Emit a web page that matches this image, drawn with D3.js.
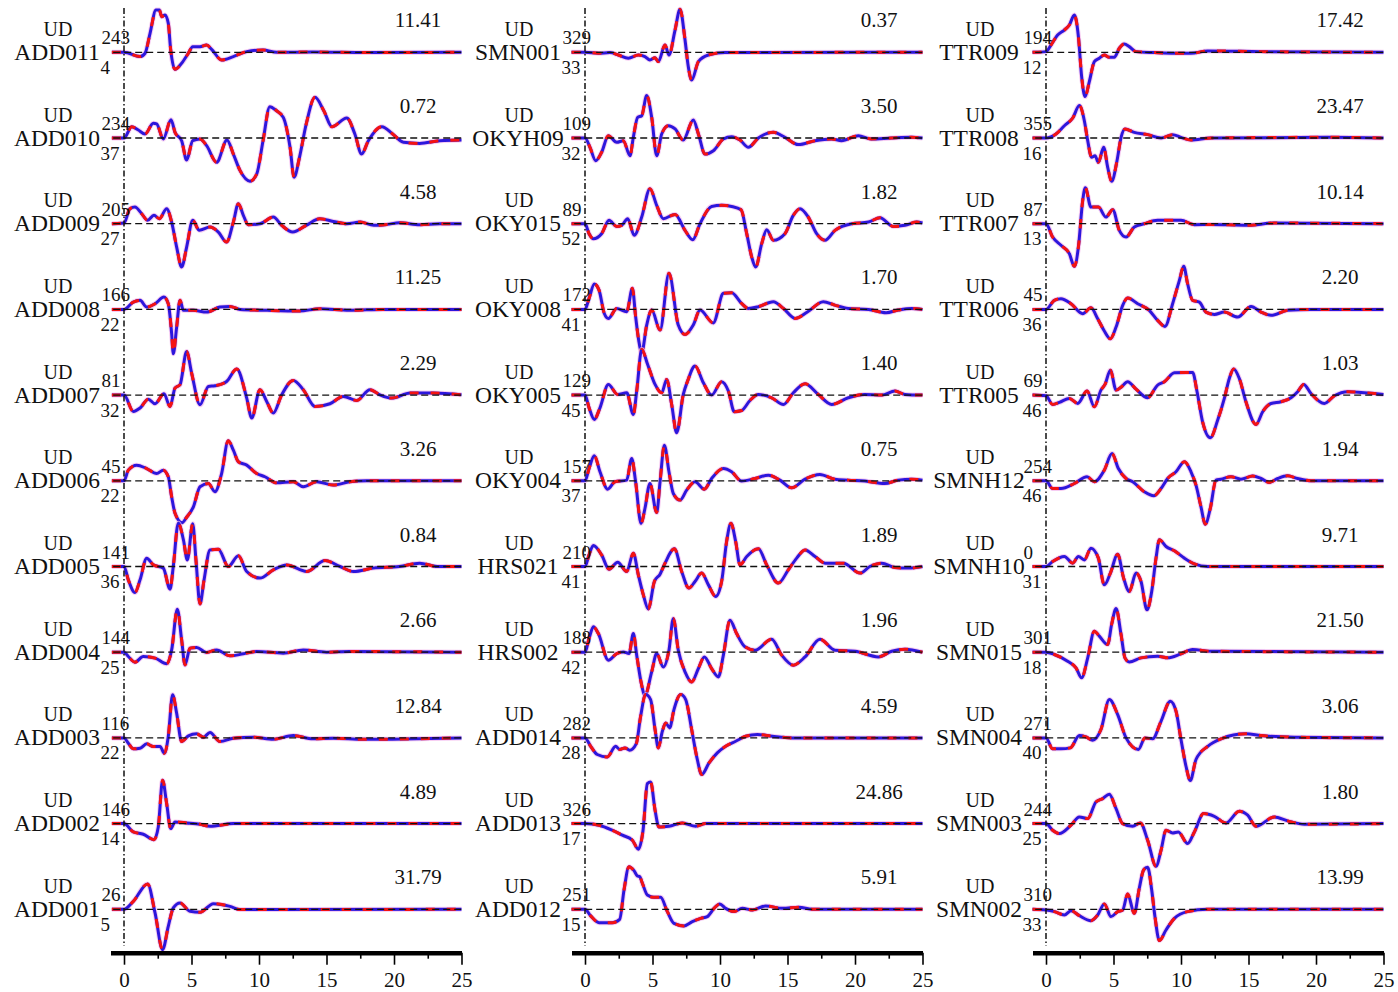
<!DOCTYPE html>
<html>
<head>
<meta charset="utf-8">
<script src="https://cdn.jsdelivr.net/npm/d3@7"></script>
<style>
  body { margin: 0; background: #fff; }
  text { font-family: "Liberation Serif", "Times New Roman", serif; fill: #111; }
</style>
</head>
<body>
<svg id="chart" width="1398" height="992"></svg>
<script>
// ---- station labels (top to bottom, per column) ----
const stationsCol1 = ["ADD011","ADD010","ADD009","ADD008","ADD007","ADD006","ADD005","ADD004","ADD003","ADD002","ADD001"];
const stationsCol2 = ["SMN001","OKYH09","OKY015","OKY008","OKY005","OKY004","HRS021","HRS002","ADD014","ADD013","ADD012"];
const stationsCol3 = ["TTR009","TTR008","TTR007","TTR006","TTR005","SMNH12","SMNH10","SMN015","SMN004","SMN003","SMN002"];

// azimuth (upper) and distance (lower) next to each station name
const azimuthCol1 = ["243","234","205","166","81","45","141","144","116","146","26"];
const distanceCol1 = ["4","37","27","22","32","22","36","25","22","14","5"];
const azimuthCol2 = ["329","109","89","172","129","157","210","188","282","326","251"];
const distanceCol2 = ["33","32","52","41","45","37","41","42","28","17","15"];
const azimuthCol3 = ["194","355","87","45","69","254","0","301","271","244","310"];
const distanceCol3 = ["12","16","13","36","46","46","31","18","40","25","33"];

// peak amplitude printed above each trace
const peakCol1 = ["11.41","0.72","4.58","11.25","2.29","3.26","0.84","2.66","12.84","4.89","31.79"];
const peakCol2 = ["0.37","3.50","1.82","1.70","1.40","0.75","1.89","1.96","4.59","24.86","5.91"];
const peakCol3 = ["17.42","23.47","10.14","2.20","1.03","1.94","9.71","21.50","3.06","1.80","13.99"];

// time axis ticks (s)
const majorTicks = [0, 5, 10, 15, 20, 25];
const minorTicks = [2.5, 7.5, 12.5, 17.5, 22.5];

// ---- normalized vertical-component waveforms: [time (s), amplitude] ----
const ADD011 = [[-0.9,0],[0,0],[1.19,-0.32],[1.56,-0.07],[1.93,1.41],[2.37,3.14],[2.62,3.14],[2.79,2.64],[3.04,2.77],[3.28,2.15],[3.46,0.17],[3.78,-1.26],[4.27,-0.81],[4.77,-0.07],[5.09,0.42],[5.63,0.42],[6.12,0.54],[6.49,0.22],[7.23,-0.57],[8.1,-0.32],[9.09,0.05],[10.3,0.17],[11.3,0],[14,0.02],[18,-0.02],[25,0]];
const ADD010 = [[-0.9,0],[0,0],[0.57,0.84],[1.06,0.59],[1.56,0.3],[2.17,1.09],[2.42,1.04],[2.91,-0.07],[3.48,1.36],[3.78,0.42],[4.27,-0.2],[4.64,-1.63],[5.09,-0.2],[5.63,-0.07],[6.12,-0.57],[6.86,-1.8],[7.63,-0.15],[8.1,-1.19],[8.6,-2.42],[9.33,-3.2],[9.83,-2.67],[10.3,-0.2],[10.8,2.32],[11.3,2.02],[11.8,1.53],[12.3,-0.69],[12.6,-2.91],[13.0,-1.43],[13.5,1.04],[14.15,3.01],[14.8,2.02],[15.4,0.84],[16.5,1.48],[17.1,0.3],[17.6,-1.19],[18.1,-0.2],[19.1,0.84],[19.9,0.3],[20.7,-0.32],[21.9,-0.4],[23.4,-0.2],[25,-0.15]];
const ADD009 = [[-0.9,0],[0,0.05],[0.44,1.11],[0.81,1.23],[1.31,0.74],[1.75,0.25],[2.22,0.62],[2.62,0.37],[3.16,1.11],[3.53,0.12],[3.9,-1.73],[4.27,-3.21],[4.64,-1.73],[5.09,0.25],[5.58,-0.49],[6.37,-0.25],[6.99,-0.62],[7.6,-1.36],[8.1,0.12],[8.47,1.48],[8.84,0.62],[9.21,-0.07],[10.07,0],[11.06,0.49],[11.68,-0.12],[12.5,-0.62],[13.5,-0.12],[14.5,0.37],[15.5,0.17],[16.5,0],[17.5,0.12],[18.5,-0.12],[19.5,-0.05],[20.4,0.07],[21.9,-0.07],[23.4,0],[25,0]];
const ADD008 = [[-0.9,0],[0,0],[0.69,0.54],[1.19,0.67],[1.68,0.17],[2.3,0.42],[2.96,0.91],[3.28,0.42],[3.53,-1.8],[3.65,-3.28],[3.9,-1.31],[4.15,0.67],[4.4,-0.07],[5.14,-0.07],[6.12,-0.2],[7.1,0.17],[7.85,0.22],[8.6,0],[10.6,-0.07],[13.0,-0.12],[14.5,0.05],[16.7,-0.07],[19.2,0],[25,0]];
const ADD007 = [[-0.9,0],[0,0],[0.69,-1.21],[1.19,-0.96],[1.8,-0.3],[2.3,-0.64],[2.96,0.1],[3.41,-0.84],[3.78,0.52],[4.15,0.77],[4.64,3.23],[5.01,1.63],[5.63,-0.72],[6.25,0.64],[6.74,0.69],[7.6,1.01],[8.35,1.93],[9.09,-0.22],[9.46,-1.7],[10.07,0.4],[10.57,-0.47],[11.06,-1.33],[11.68,0.02],[12.54,1.09],[13.28,0.4],[14.15,-0.84],[15.26,-0.64],[16.25,-0.1],[17.23,-0.4],[18.22,0.4],[18.96,0.02],[19.83,-0.22],[21.2,0.15],[22.9,0.15],[25,0.02]];
const ADD006 = [[-0.9,0],[0,0],[0.32,0.79],[0.94,1.16],[1.68,0.91],[2.42,0.54],[2.91,0.79],[3.28,0.3],[3.53,-1.19],[3.78,-2.4],[4.3,-3.1],[4.64,-2.7],[5.14,-1.93],[5.63,-0.44],[6.25,-0.2],[6.74,-0.81],[7.23,0.54],[7.72,2.96],[8.1,2.27],[8.47,1.41],[9.09,1.16],[9.83,0.54],[10.44,0.3],[11.3,-0.15],[12.54,-0.07],[13.28,-0.44],[14.27,-0.07],[15.5,-0.32],[16.74,-0.07],[17.98,0],[25,0]];
const ADD005 = [[-0.9,0],[0,0],[0.32,-0.99],[0.81,-1.93],[1.19,-0.99],[1.68,0.62],[2.17,0.12],[2.91,-0.12],[3.41,-1.68],[3.65,0],[4.02,3.21],[4.4,1.98],[4.69,0.49],[5.09,3.16],[5.33,0.49],[5.63,-2.77],[5.93,-0.99],[6.37,1.23],[6.99,1.28],[7.73,0],[8.47,0.79],[9.09,-0.37],[10.07,-0.86],[11.06,-0.25],[12.05,0.12],[13.53,-0.37],[14.89,0.44],[16,0],[17,-0.37],[18.47,-0.12],[20.4,0],[21.9,0.25],[23.2,0],[25,0]];
const ADD004 = [[-0.9,0],[0,0],[0.32,-0.32],[0.81,-0.74],[1.43,-0.32],[2.3,-0.44],[3.16,-0.86],[3.53,0.17],[3.95,3.19],[4.27,0.91],[4.52,-0.94],[4.89,0.3],[5.38,0.35],[6.12,-0.02],[6.86,0.17],[7.85,-0.27],[8.84,-0.12],[9.83,0.05],[11.8,-0.07],[13.28,0.17],[15,0],[16.7,0.05],[25,0]];
const ADD003 = [[-0.9,0],[0,0],[0.32,-0.4],[0.69,-0.81],[1.19,-0.77],[1.68,-0.44],[2.17,-0.64],[2.67,-0.64],[2.99,-1.14],[3.28,0.1],[3.6,3.19],[3.9,1.83],[4.27,-0.27],[4.77,0.15],[5.38,0.3],[5.88,0.05],[6.37,0.4],[7.11,-0.27],[8.1,-0.02],[9.58,0.05],[11.06,-0.1],[12.54,0.17],[14.0,-0.07],[15.5,-0.02],[17.7,-0.1],[25,0]];
const ADD002 = [[-0.9,0],[0,0],[0.69,-0.62],[1.43,-0.79],[2.22,-1.19],[2.54,-0.25],[2.86,3.21],[3.16,1.48],[3.46,-0.37],[3.78,0.12],[4.64,0.05],[5.63,-0.05],[6.37,-0.2],[8.1,0],[25,0]];
const ADD001 = [[-0.9,0],[0,0],[0.69,0.59],[1.75,1.88],[2.3,-0.27],[2.86,-2.99],[3.28,-1.26],[3.65,0.1],[4.15,0.47],[4.89,-0.15],[5.63,-0.22],[6.62,0.42],[7.85,0.22],[8.6,-0.02],[9.83,-0.02],[25,0]];

const SMN001 = [[-1,0],[0,0],[0.99,-0.07],[1.85,-0.02],[2.47,-0.2],[3.21,-0.44],[3.95,-0.2],[4.44,-0.32],[4.81,-0.57],[5.19,-0.4],[5.43,-0.69],[5.93,0.54],[6.22,-0.2],[6.67,1.65],[7.04,3.19],[7.41,0.91],[7.65,-1.06],[7.9,-2.05],[8.4,-0.69],[9.14,-0.2],[10.37,-0.02],[25,0]];
const OKYH09 = [[-1,0],[0,0],[0.37,-0.69],[0.79,-1.68],[1.23,-1.06],[1.73,0.17],[2.35,-0.32],[2.84,-0.2],[3.33,-1.31],[3.58,0.05],[3.9,1.53],[4.2,1.65],[4.57,3.14],[4.94,1.53],[5.31,-1.31],[5.68,0.3],[6.17,0.91],[6.67,0.67],[7.28,-0.15],[8.02,1.33],[8.4,0.3],[8.89,-1.19],[9.51,-0.94],[10.25,-0.07],[10.86,0.1],[11.48,-0.15],[12.1,-0.69],[12.84,0],[13.95,0.42],[14.81,0.05],[15.8,-0.49],[17.04,-0.2],[18.27,-0.07],[19.0,-0.2],[20.25,0.17],[21.2,-0.07],[22.7,0],[24.2,0.05],[25,0]];
const OKY015 = [[-1,0],[0,0],[0.3,-0.74],[0.62,-1.11],[1.23,-0.74],[1.78,0.25],[2.35,-0.2],[2.72,-0.12],[3.16,0.37],[3.65,-0.86],[4.2,0.49],[4.81,2.59],[5.31,1.36],[5.8,0.37],[6.67,0.69],[7.41,-0.49],[7.98,-1.19],[8.52,0],[9.38,1.28],[10.12,1.36],[10.86,1.28],[11.56,1.04],[11.98,-0.74],[12.35,-2.47],[12.64,-3.21],[13.09,-1.48],[13.46,-0.44],[13.95,-1.23],[14.81,-0.74],[15.43,0.62],[15.93,1.11],[16.54,0.49],[17.16,-0.74],[17.78,-1.23],[18.52,-0.49],[19.75,0],[20.99,0.12],[21.85,0.44],[22.84,-0.2],[23.7,-0.12],[24.57,0.12],[25,0.05]];
const OKY008 = [[-1,0],[0,0],[0.3,0.81],[0.69,1.88],[1.04,1.43],[1.43,-0.3],[1.73,-0.67],[2.35,0.07],[3.09,-0.17],[3.51,1.56],[3.75,-0.54],[3.98,-2.3],[4.2,-3.2],[4.57,-1.16],[4.94,-0.05],[5.56,-1.53],[6.22,2.67],[6.91,-1.16],[7.41,-1.85],[8.02,-1.16],[8.52,-0.05],[9.5,-1.0],[10.25,1.19],[10.86,1.23],[11.6,0.44],[12.1,0.07],[12.84,0.2],[13.95,0.57],[14.7,0.07],[15.56,-0.67],[16.5,-0.17],[17.65,0.57],[18.5,0.32],[19.5,0.07],[21,0],[22.3,-0.25],[23.2,-0.05],[24.2,0.07],[25,0]];
const OKY005 = [[-1,0],[0,0],[0.3,-0.94],[0.69,-1.8],[1.11,-0.94],[1.73,0.79],[2.42,0.05],[3.09,0.17],[3.58,-1.43],[3.83,0.3],[4.2,3.38],[4.64,2.27],[5.19,0.79],[5.68,0.17],[6.05,1.16],[6.42,-0.69],[6.79,-2.79],[7.28,0.05],[7.6,1.04],[8.15,2.15],[8.77,0.91],[9.38,0],[10.12,0.99],[10.62,0.3],[11.06,-1.23],[11.6,-1.14],[12.22,-0.4],[12.84,0.05],[13.83,-0.2],[14.7,-0.69],[15.43,0.17],[16.3,0.84],[17.28,0.05],[18.27,-0.69],[19.5,-0.2],[20.7,0.05],[21.98,0],[22.96,0.3],[23.7,0.05],[25,0]];
const OKY004 = [[-1,0],[0,0],[0.3,0.91],[0.69,1.85],[1.11,0.67],[1.68,-0.62],[2.22,-0.07],[3.09,0.05],[3.46,1.65],[3.75,-0.07],[4.15,-3.16],[4.44,-2.05],[4.81,-0.2],[5.31,-2.35],[5.56,-0.07],[5.88,2.64],[6.22,0.67],[6.54,-0.94],[7.04,-1.43],[7.53,-0.69],[8.15,-0.07],[8.84,-0.62],[9.38,0.17],[10.25,0.91],[10.86,0.67],[11.6,-0.02],[12.59,0.17],[13.58,0.42],[14.44,0.05],[15.31,-0.52],[16.3,0.12],[17.4,0.47],[18.5,0.12],[19.5,0.05],[20.74,-0.02],[22.2,-0.2],[23.2,0.05],[24.2,0.12],[25,0.05]];
const HRS021 = [[-1,0],[0,0],[0.3,0.86],[0.62,1.56],[1.23,0.86],[1.78,-0.2],[2.42,0.32],[3.09,-0.37],[3.58,0.99],[3.95,-0.62],[4.32,-2.1],[4.69,-3.14],[5.14,-1.11],[5.56,-0.57],[5.93,0.25],[6.62,1.31],[7.16,-0.37],[7.7,-1.6],[8.15,-1.11],[8.64,-0.49],[9.14,-1.36],[9.68,-2.22],[10.12,-1.11],[10.49,1.85],[10.81,3.21],[11.16,1.85],[11.48,0.12],[11.98,0.74],[12.84,1.31],[13.46,0.12],[14.32,-1.23],[15.06,-0.25],[15.68,0.62],[16.3,1.23],[17.04,0.74],[17.78,0.25],[19.14,0.25],[20.37,-0.49],[21.1,0],[21.98,0.25],[22.96,-0.07],[23.95,-0.12],[25,0]];
const HRS002 = [[-1,0],[0,0],[0.3,1.01],[0.62,1.88],[0.99,1.38],[1.73,-0.59],[2.35,-0.1],[2.84,0.02],[3.26,-0.1],[3.58,1.38],[3.83,-0.22],[4.15,-2.2],[4.44,-3.19],[4.94,-1.46],[5.31,-0.1],[5.8,-1.09],[6.22,0.15],[6.54,2.49],[6.91,0.15],[7.41,-1.46],[7.9,-2.2],[8.4,-1.21],[8.84,-0.35],[9.38,-1.21],[9.88,-1.83],[10.25,-0.22],[10.74,2.37],[11.23,1.38],[11.85,0.4],[12.59,0.15],[13.83,0.96],[14.57,-0.22],[15.43,-0.96],[16.3,-0.35],[17.4,0.96],[18.52,0.15],[20,0.07],[21.73,-0.35],[22.72,0.07],[23.7,0.22],[25,0]];
const ADD014 = [[-1,0],[0,0],[0.42,-0.62],[0.91,-1.23],[1.65,-1.41],[2.27,-0.62],[2.57,-0.86],[2.96,-0.74],[3.31,-0.91],[3.8,-0.42],[4.12,1.6],[4.49,3.21],[4.86,2.84],[5.19,0.62],[5.43,-0.74],[5.73,0.49],[5.98,1.11],[6.27,0.74],[6.59,2.1],[7.09,3.21],[7.46,2.84],[7.9,0.62],[8.32,-1.6],[8.64,-2.72],[9.19,-1.85],[9.8,-1.11],[10.42,-0.62],[11.16,-0.25],[11.9,0.12],[12.77,0.25],[13.88,0.12],[15.36,0],[25,0]];
const ADD013 = [[-1,0],[0,0],[1.04,-0.12],[2.02,-0.49],[2.77,-0.86],[3.51,-1.23],[3.95,-1.9],[4.3,-0.49],[4.62,2.96],[4.86,3.09],[5.19,0.99],[5.48,-0.25],[6.22,-0.2],[7.21,0.05],[8.2,-0.2],[8.94,0],[25,0]];
const ADD012 = [[-1,0],[0,0],[0.42,-0.49],[1.04,-0.99],[2.02,-0.99],[2.57,-0.74],[2.89,1.43],[3.26,3.16],[3.63,2.86],[3.88,2.47],[4.05,2.42],[4.25,1.93],[4.62,1.06],[5.11,0.89],[5.6,0.89],[6.1,-0.17],[6.59,-1.04],[7.33,-1.23],[7.95,-0.91],[8.57,-0.67],[9.06,-0.54],[9.56,0.07],[9.98,0.4],[10.42,0.07],[11.04,-0.17],[11.65,0.07],[12.4,-0.05],[13.38,0.25],[14.62,0.07],[15.85,0.15],[16.84,0],[25,0]];

const TTR009 = [[-1,0],[0,0.05],[0.37,0.54],[0.86,1.28],[1.36,1.65],[1.73,2.02],[2.1,2.77],[2.4,1.16],[2.64,-1.8],[2.89,-3.28],[3.21,-2.17],[3.58,-0.69],[3.95,-0.44],[4.32,-0.2],[4.69,-0.37],[5.06,-0.37],[5.43,0.3],[5.8,0.62],[6.17,0.42],[6.67,0.05],[8.02,-0.02],[9.51,-0.07],[10.74,-0.07],[11.98,0.1],[15.9,0.05],[25,0]];
const TTR008 = [[-1,0],[0,0],[0.74,0.3],[1.36,0.91],[1.98,1.48],[2.47,2.4],[2.84,1.28],[3.09,-0.2],[3.38,-1.43],[3.63,-1.31],[3.88,-1.8],[4.27,-0.69],[4.57,-2.17],[4.86,-3.21],[5.26,-1.68],[5.56,0.05],[5.85,0.67],[6.54,0.42],[7.53,0.25],[8.52,0],[9.38,0.25],[10.0,0.05],[10.74,-0.15],[12.22,0],[20.86,0.05],[25,0]];
const TTR007 = [[-1,0],[0,0],[0.49,-0.99],[1.11,-1.6],[1.73,-2.22],[2.1,-3.16],[2.4,-1.73],[2.72,1.73],[2.91,2.67],[3.33,1.23],[3.88,1.23],[4.44,0.49],[4.94,1.04],[5.43,-0.49],[5.93,-0.99],[6.54,-0.25],[7.28,0],[8.27,0.25],[10.0,0.25],[10.99,-0.07],[12.22,-0.05],[14.94,-0.12],[16.9,0.05],[25,0]];
const TTR006 = [[-1,0],[0,0],[0.62,0.67],[1.11,0.79],[1.85,0.42],[2.72,-0.32],[3.33,0.12],[3.83,-0.69],[4.32,-1.6],[4.77,-2.17],[5.19,-1.31],[5.68,0.3],[6.05,0.84],[6.79,0.42],[7.65,-0.07],[8.27,-0.81],[8.81,-1.26],[9.38,0.42],[9.88,2.15],[10.2,3.19],[10.49,1.9],[10.86,0.67],[11.36,0.54],[11.85,-0.2],[12.47,-0.37],[13.21,-0.2],[14.2,-0.57],[15.19,0.22],[15.93,-0.2],[16.67,-0.44],[17.9,-0.07],[19.6,0],[25,0]];
const TTR005 = [[-1,0],[0,-0.05],[0.49,-0.69],[0.99,-0.54],[1.73,-0.25],[2.35,-0.62],[3.04,0.3],[3.58,-0.86],[4.07,0.37],[4.37,0.79],[4.77,1.85],[5.19,0.37],[5.6,0.62],[6.05,0.99],[6.67,0.44],[7.53,-0.2],[8.27,0.74],[8.77,0.99],[9.51,1.65],[10.37,1.68],[10.86,1.68],[11.19,0.25],[11.6,-1.98],[12.17,-3.16],[12.72,-1.85],[13.21,-0.25],[13.58,1.23],[13.9,1.93],[14.32,1.23],[14.81,-0.49],[15.56,-2.17],[16.05,-1.23],[16.67,-0.62],[17.41,-0.49],[18.15,-0.2],[18.64,0.25],[19.09,0.79],[19.63,0.12],[20.62,-0.62],[21.36,-0.05],[22.35,0.25],[23.33,0.2],[24.32,0.12],[25,0.05]];
const SMNH12 = [[-1,0],[0,0],[0.49,-0.57],[1.11,-0.57],[2.1,-0.2],[3.04,0.3],[3.58,-0.07],[4.32,0.79],[4.89,2.02],[5.36,0.91],[5.93,0.17],[6.42,-0.07],[7.28,-0.81],[7.98,-1.11],[8.52,-0.57],[9.01,0.17],[9.63,0.67],[10.25,1.41],[10.74,0.67],[11.11,-0.32],[11.48,-1.93],[11.8,-3.21],[12.17,-2.05],[12.59,0.05],[12.96,0.12],[13.7,0.3],[14.44,0.12],[15.31,0.35],[15.93,0.17],[16.54,-0.12],[17.16,0.17],[17.9,0.37],[18.64,0.17],[19.63,0],[25,0]];
const SMNH10 = [[-1,0],[0,0],[0.49,0.37],[1.36,0.74],[1.98,0.25],[2.4,0.74],[2.84,0.49],[3.33,1.36],[3.88,0.62],[4.32,-1.36],[4.77,-0.49],[5.31,0.91],[5.75,-0.86],[6.17,-1.85],[6.67,-0.49],[7.04,-1.11],[7.48,-3.21],[7.83,-1.85],[8.15,0.62],[8.4,1.98],[8.89,1.48],[9.51,1.16],[10.25,0.62],[10.99,0.2],[11.98,0],[25,0]];
const SMN015 = [[-1,0],[0,0],[0.62,-0.17],[1.6,-0.67],[2.22,-1.16],[2.64,-1.9],[3.09,-0.42],[3.58,1.56],[3.95,1.19],[4.57,0.57],[4.86,2.05],[5.19,3.23],[5.56,1.31],[5.85,-0.42],[6.17,-0.72],[7.04,-0.42],[8.27,-0.3],[9.01,-0.42],[10.0,-0.12],[10.86,0.2],[12.22,0.07],[25,0]];
const SMN004 = [[-1,0],[0,0],[0.49,-0.81],[1.11,-0.81],[1.8,-0.74],[2.47,0.17],[2.96,0.07],[3.46,-0.17],[4.07,0.62],[4.69,2.84],[5.31,1.73],[5.93,0],[6.84,-0.86],[7.33,0],[7.9,-0.07],[8.52,1.23],[9.21,2.72],[9.63,1.98],[10.0,-0.12],[10.37,-2.1],[10.69,-3.16],[11.11,-1.6],[11.98,-0.62],[12.96,-0.07],[14.81,0.3],[15.93,0.17],[18.4,0.05],[25,0]];
const SMN003 = [[-1,0],[0,0],[0.49,-0.49],[0.99,-0.74],[1.85,-0.12],[2.47,0.49],[3.09,0.37],[3.7,1.6],[4.2,1.85],[4.69,2.17],[5.19,1.11],[5.68,0],[6.42,-0.2],[6.99,0.05],[7.53,-1.23],[8.15,-3.16],[8.52,-1.98],[8.89,-0.49],[9.38,-0.69],[9.8,-0.62],[10.49,-1.48],[10.99,-0.62],[11.68,0.74],[12.47,0.54],[13.33,0.05],[14.32,0.91],[14.94,0.62],[15.56,-0.2],[16.91,0.49],[17.9,0.2],[19.14,-0.05],[25,0]];
const SMN002 = [[-1,0],[0,-0.05],[0.62,-0.17],[1.36,-0.42],[1.85,-0.1],[2.47,-0.47],[3.33,-0.84],[3.83,-0.42],[4.32,0.4],[4.81,-0.54],[5.31,-0.17],[5.68,-0.05],[6.05,1.14],[6.54,-0.3],[6.91,1.56],[7.23,2.91],[7.53,3.11],[7.83,1.43],[8.07,-0.54],[8.4,-2.32],[8.89,-1.53],[9.51,-0.67],[10.49,-0.17],[11.98,0],[25,0]];

const tracesCol1 = [ADD011, ADD010, ADD009, ADD008, ADD007, ADD006, ADD005, ADD004, ADD003, ADD002, ADD001];
const tracesCol2 = [SMN001, OKYH09, OKY015, OKY008, OKY005, OKY004, HRS021, HRS002, ADD014, ADD013, ADD012];
const tracesCol3 = [TTR009, TTR008, TTR007, TTR006, TTR005, SMNH12, SMNH10, SMN015, SMN004, SMN003, SMN002];

// ---- layout ----
const svg = d3.select("#chart");
const columns = [
  { origin: 124,  stations: stationsCol1, az: azimuthCol1, dist: distanceCol1, peak: peakCol1, traces: tracesCol1 },
  { origin: 585,  stations: stationsCol2, az: azimuthCol2, dist: distanceCol2, peak: peakCol2, traces: tracesCol2 },
  { origin: 1046, stations: stationsCol3, az: azimuthCol3, dist: distanceCol3, peak: peakCol3, traces: tracesCol3 }
];
const secPx = 13.5;
const rowY = d3.scaleLinear().domain([0, 10]).range([52.3, 909.3]);
const ampY = d3.scaleLinear().domain([-1, 1]).range([secPx, -secPx]);
const axisY = 952.7;

columns.forEach(col => {
  const x = d3.scaleLinear().domain([-1, 25]).range([col.origin - secPx, col.origin + 25 * secPx]);
  const g = svg.append("g");

  col.traces.forEach((trace, i) => {
    const base = rowY(i);
    const line = d3.line()
      .x(d => x(d[0]))
      .y(d => base + ampY(d[1]))
      .curve(d3.curveMonotoneX);
    const p = line(trace);
    g.append("path").attr("d", p).attr("fill", "none")
      .attr("stroke", "#f2b6ec").attr("stroke-width", 5).attr("stroke-linejoin", "round").attr("opacity", 0.7);
    g.append("path").attr("d", p).attr("fill", "none")
      .attr("stroke", "#2d16dc").attr("stroke-width", 3).attr("stroke-linejoin", "round");
    g.append("path").attr("d", p).attr("fill", "none")
      .attr("stroke", "#f41212").attr("stroke-width", 3).attr("stroke-dasharray", "9,12");
  });

  col.traces.forEach((trace, i) => {
    const base = rowY(i);
    // zero line of each trace
    g.append("line")
      .attr("x1", x(-0.8)).attr("x2", x(25.1)).attr("y1", base).attr("y2", base)
      .attr("stroke", "#111").attr("stroke-width", 1.3).attr("stroke-dasharray", "7,4");

    g.append("text").attr("x", col.origin - 66).attr("y", base - 16.5)
      .attr("text-anchor", "middle").attr("font-size", 20).text("UD");
    g.append("text").attr("x", col.origin - 67).attr("y", base + 7.5)
      .attr("text-anchor", "middle").attr("font-size", 23.5).text(col.stations[i]);
    g.append("text").attr("x", col.origin - 22.5).attr("y", base - 8)
      .attr("font-size", 19).text(col.az[i]);
    g.append("text").attr("x", col.origin - 23.5).attr("y", base + 21.5)
      .attr("font-size", 19).text(col.dist[i]);
    g.append("text").attr("x", col.origin + 294).attr("y", base - 25)
      .attr("text-anchor", "middle").attr("font-size", 21).text(col.peak[i]);
  });

  // origin-time marker
  g.append("line")
    .attr("x1", x(0)).attr("x2", x(0)).attr("y1", 8).attr("y2", 946)
    .attr("stroke", "#111").attr("stroke-width", 1.5).attr("stroke-dasharray", "6,2.5,1.5,2.5");

  // time axis
  const major = g.append("g").attr("transform", `translate(0,${axisY})`)
    .call(d3.axisBottom(x).tickValues(majorTicks).tickSize(12).tickSizeOuter(0).tickPadding(7));
  major.select(".domain").attr("stroke", "#000").attr("stroke-width", 4.5);
  major.selectAll(".tick line").attr("stroke", "#000").attr("stroke-width", 1.6);
  major.selectAll(".tick text").attr("font-size", 21).attr("fill", "#111")
    .style("font-family", "'Liberation Serif', 'Times New Roman', serif");

  const minor = g.append("g").attr("transform", `translate(0,${axisY})`)
    .call(d3.axisBottom(x).tickValues(minorTicks).tickSize(6).tickSizeOuter(0).tickFormat(""));
  minor.select(".domain").remove();
  minor.selectAll(".tick line").attr("stroke", "#000").attr("stroke-width", 1.6);
});
</script>
</body>
</html>
